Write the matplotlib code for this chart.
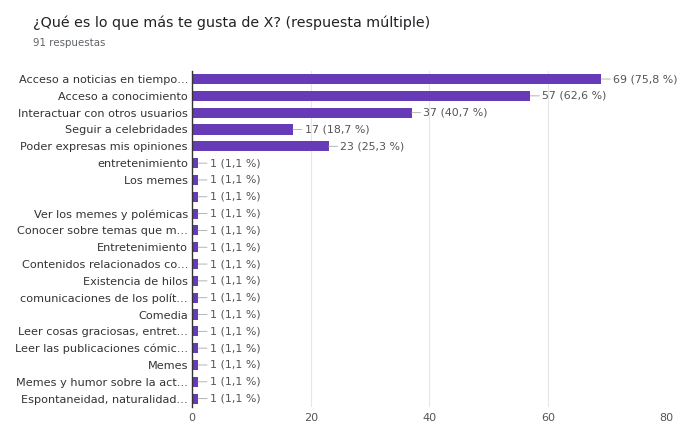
import matplotlib.pyplot as plt

TITULO = "¿Qué es lo que más te gusta de X? (respuesta múltiple)"
SUBTITULO = "91 respuestas"
TOTAL = 91

categorias = [
    "Acceso a noticias en tiempo…",
    "Acceso a conocimiento",
    "Interactuar con otros usuarios",
    "Seguir a celebridades",
    "Poder expresas mis opiniones",
    "entretenimiento",
    "Los memes",
    "",
    "Ver los memes y polémicas",
    "Conocer sobre temas que m…",
    "Entretenimiento",
    "Contenidos relacionados co…",
    "Existencia de hilos",
    "comunicaciones de los polít…",
    "Comedia",
    "Leer cosas graciosas, entret…",
    "Leer las publicaciones cómic…",
    "Memes",
    "Memes y humor sobre la act…",
    "Espontaneidad, naturalidad…",
]
valores = [69, 57, 37, 17, 23] + [1] * 15
ticks_x = [0, 20, 40, 60, 80]

MORADO = "#673ab7"
GRIS = "#555555"

fig = plt.figure(figsize=(6.81, 4.28), dpi=100)
ax = fig.add_axes([0.282, 0.049, 0.697, 0.786])

y = list(range(len(categorias)))
ax.barh(y, valores, height=0.6, color=MORADO, zorder=3)

for yi, v in zip(y, valores):
    pct = f"{v / TOTAL * 100:.1f}".replace(".", ",")
    ax.annotate(f"{v} ({pct} %)", xy=(v, yi), xytext=(8.5, 0),
                textcoords="offset points", va="center", ha="left",
                fontsize=7.9, color=GRIS,
                arrowprops=dict(arrowstyle="-", color="#a8a8a8", lw=0.6,
                                shrinkA=0, shrinkB=0))

ax.set_yticks(y)
ax.set_yticklabels(categorias, fontsize=8.1, color="#333333")
ax.set_ylim(len(categorias) - 0.5, -0.5)
ax.set_xlim(0, 80)
ax.set_xticks(ticks_x)
ax.set_xticklabels([str(t) for t in ticks_x], fontsize=8, color=GRIS)
ax.tick_params(axis="both", length=0, pad=3)
ax.tick_params(axis="x", pad=4)
ax.grid(axis="x", color="#e6e6e6", lw=0.8, zorder=0)
for lado in ["top", "right", "bottom"]:
    ax.spines[lado].set_visible(False)
ax.spines["left"].set_color("#333333")
ax.spines["left"].set_linewidth(1.0)
ax.spines["left"].set_zorder(4)

fig.text(0.048, 0.947, TITULO, fontsize=10.3, color="#202124", va="center")
fig.text(0.048, 0.899, SUBTITULO, fontsize=7.4, color="#5f6368", va="center")

plt.savefig("out.png", dpi=100)
plt.close()
